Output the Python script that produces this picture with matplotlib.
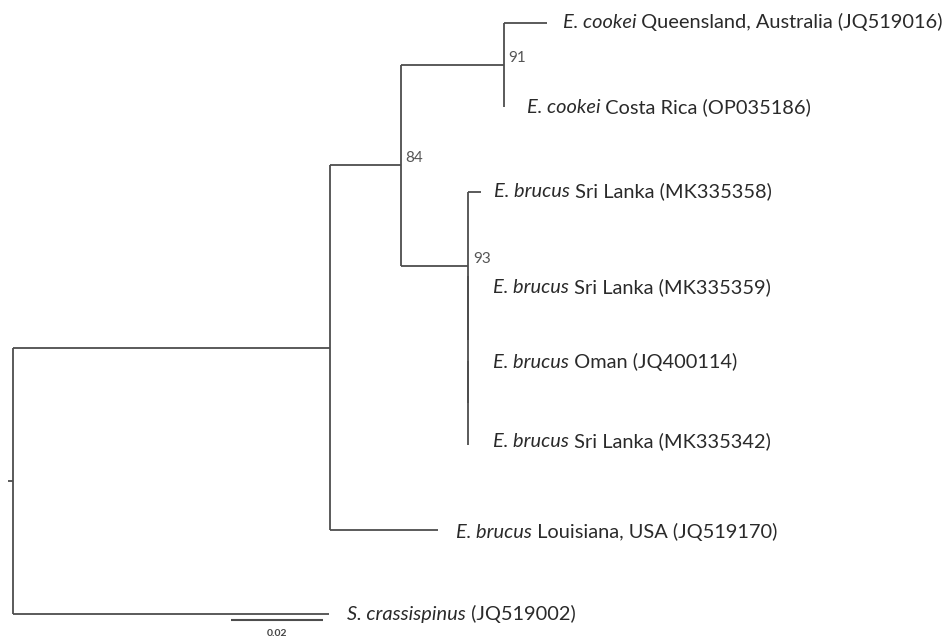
import matplotlib
matplotlib.use("Agg")
import matplotlib.pyplot as plt

# tree as parent / branch length (substitutions per site)
nodes = ["root", "n1", "n2", "n3", "n4", "n5", "n6",
         "QLD", "CR", "MK335358", "MK335359", "OM", "MK335342", "LA", "SC"]
parents = [None, "root", "n1", "n2", "n2", "n4", "n5",
           "n3", "n3", "n4", "n5", "n6", "n6", "n1", "root"]
lengths = [0.0011, 0.0689, 0.0154, 0.0224, 0.0146, 0.0, 0.0,
           0.0093, 0.0, 0.0028, 0.0, 0.0, 0.0, 0.0235, 0.0687]

# tips from top to bottom
tip_order = ["QLD", "CR", "MK335358", "MK335359", "OM", "MK335342", "LA", "SC"]
tip_species = ["E. cookei", "E. cookei", "E. brucus", "E. brucus",
               "E. brucus", "E. brucus", "E. brucus", "S. crassispinus"]
tip_rest = [" Queensland, Australia (JQ519016)", " Costa Rica (OP035186)",
            " Sri Lanka (MK335358)", " Sri Lanka (MK335359)", " Oman (JQ400114)",
            " Sri Lanka (MK335342)", " Louisiana, USA (JQ519170)",
            " (JQ519002)"]

support_nodes = ["n3", "n2", "n4"]
support_values = ["91", "84", "93"]

scale_length = 0.02
scale_label = "0.02"

# label nudges in points (dx, dy)
label_nudge = {"QLD": (11.5, 0), "CR": (16.5, 0), "MK335358": (9.5, 0),
               "MK335359": (18, -8), "OM": (18, -1.5), "MK335342": (18, 2.5),
               "LA": (13, -2), "SC": (13, 0)}

LINE = "#4d4d4d"
TEXT = "#2a2a2a"
FONT = ["Lato", "DejaVu Sans"]

parent_of = dict(zip(nodes, parents))
length_of = dict(zip(nodes, lengths))
children = {n: [] for n in nodes}
for n, p in zip(nodes, parents):
    if p is not None:
        children[p].append(n)

# x = distance from root
xpos = {}
for n in nodes:
    p = parent_of[n]
    xpos[n] = 0.0 if p is None else xpos[p] + length_of[n]

# y = tip index, internal nodes at mean of first and last child
ypos = {t: i for i, t in enumerate(tip_order)}


def get_y(n):
    if n not in ypos:
        ys = [get_y(c) for c in children[n]]
        ypos[n] = (ys[0] + ys[-1]) / 2.0
    return ypos[n]


get_y("root")

fig = plt.figure(figsize=(9.5, 6.37), dpi=100)
ax = fig.add_axes([0, 0, 1, 1])
ax.set_xlim(-0.00283, 0.2037)
ax.set_ylim(7.27, -0.27)
ax.axis("off")

for n in nodes:
    x1 = xpos[n]
    x0 = x1 - length_of[n]
    ax.plot([x0, x1], [ypos[n], ypos[n]], color=LINE, lw=1.3,
            solid_capstyle="butt")
    if children[n]:
        ys = [ypos[c] for c in children[n]]
        ax.plot([x1, x1], [min(ys), max(ys)], color=LINE, lw=1.3,
                solid_capstyle="butt")

for t, sp, rest in zip(tip_order, tip_species, tip_rest):
    dx, dy = label_nudge[t]
    t1 = ax.annotate(sp, xy=(xpos[t], ypos[t]), xytext=(dx, dy),
                     textcoords="offset points", va="center", ha="left",
                     fontsize=14.4, style="italic", color=TEXT, family=FONT)
    ax.annotate(rest, xy=(1, 0), xycoords=t1, va="bottom", ha="left",
                fontsize=14.4, color=TEXT, family=FONT)

for n, v in zip(support_nodes, support_values):
    ax.annotate(v, xy=(xpos[n], ypos[n]), xytext=(3.5, 5),
                textcoords="offset points", va="center", ha="left",
                fontsize=11, color="#555555", family=FONT)

# scale bar
sx0 = 0.0474
sy = 7.07
ax.plot([sx0, sx0 + scale_length], [sy, sy], color=LINE, lw=1.5,
        solid_capstyle="butt")
ax.text(sx0 + scale_length / 2, sy + 0.155, scale_label, ha="center",
        va="center", fontsize=7.5, color="#444444", family=FONT,
        fontweight="bold")

fig.savefig("out.png", dpi=100)
